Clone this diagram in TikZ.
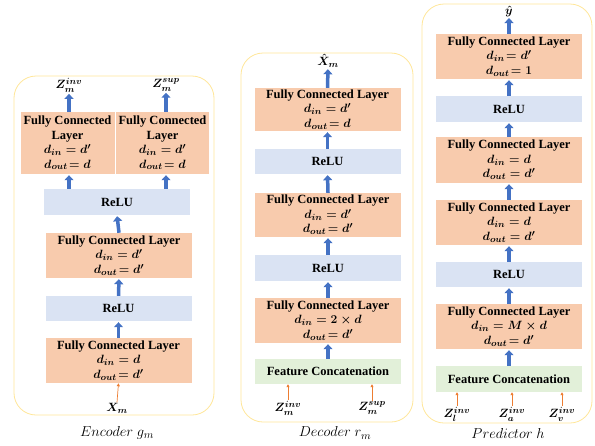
\documentclass[tikz,border=0pt]{standalone}
\usepackage{fontspec}
\setmainfont{Liberation Serif}
\usetikzlibrary{arrows, arrows.meta}
\definecolor{fcfill}{HTML}{F8CBAD}
\definecolor{relufill}{HTML}{DAE3F3}
\definecolor{catfill}{HTML}{E2F0D9}
\definecolor{panelline}{HTML}{FFE699}
\definecolor{flowblue}{HTML}{4472C4}
\definecolor{inorange}{HTML}{ED7D31}
\tikzset{
  layer/.style={inner sep=0pt, align=center, minimum width=146pt, font=\fontsize{12.5}{14.5}\selectfont\bfseries\boldmath},
  fcbox/.style={layer, fill=fcfill, minimum height=45pt},
  relubox/.style={layer, fill=relufill, minimum height=26pt},
  catbox/.style={layer, fill=catfill, minimum height=26pt},
  panel/.style={draw=panelline, line width=0.8pt, rounded corners=22pt},
  vlabel/.style={inner sep=0.5pt, font=\fontsize{13}{15}\selectfont\boldmath},
  caption/.style={font=\fontsize{15}{17}\selectfont},
  flow/.style={draw=flowblue, line width=3.5pt, shorten >=1pt, -{Triangle[length=5pt, width=9pt]}},
  feed/.style={draw=inorange, line width=0.7pt, -{Triangle[length=3pt, width=3pt]}}
}
\begin{document}
\begin{tikzpicture}[x=1pt, y=-1pt]
\useasboundingbox (0,0) rectangle (595,445);

% Encoder
\draw[panel] (14,76) rectangle (214,415);
\node[fcbox, minimum width=94pt, minimum height=62pt] (encfca) at (67.5,143){Fully Connected\\Layer\\$d_{in} = d'$\\$d_{out}\!= d$};
\node[fcbox, minimum width=93pt, minimum height=62pt] (encfcb) at (162.5,143){Fully Connected\\Layer\\$d_{in} = d'$\\$d_{out}\!= d$};
\node[relubox] (encrelua) at (117,202){ReLU};
\node[fcbox] (encfcc) at (119,255.5){Fully Connected Layer\\$d_{in} = d'$\\$d_{out}\!= d'$};
\node[relubox, minimum height=25pt] (increlub) at (118.5,308.5){ReLU};
\node[fcbox] (encfcd) at (118.5,360.5){Fully Connected Layer\\$d_{in} = d$\\$d_{out}\!= d'$};
\node[vlabel] (encx) at (117,408){$X_m$};
\node[vlabel] (enczinv) at (69,85){$Z_m^{inv}$};\node[vlabel] (enczsup) at (166,85){$Z_m^{sup}$};
\node[caption] (enccap) at (117,433){$Encoder\ g_m$};
\draw[feed] (encx.north) -- (encfcd.south);
\draw[flow] (encfcd.north) -- (increlub.south);\draw[flow] (increlub.north) -- (encfcc.south);
\draw[flow] (encfcc.north) -- (encrelua.south);
\draw[flow] (encrelua.north -| enczinv) -- (encfca.south -| enczinv);\draw[flow] (encrelua.north -| enczsup) -- (encfcb.south -| enczsup);
\draw[flow] (encfca.north -| enczinv) -- (enczinv.south);\draw[flow] (encfcb.north -| enczsup) -- (enczsup.south);

% Decoder
\draw[panel] (241,53) rectangle (413,422);
\node[fcbox, minimum height=43pt] (decfca) at (327.5,109.5){Fully Connected Layer\\$d_{in} = d'$\\$d_{out}\!= d$};
\node[relubox, minimum height=25pt] (decrelua) at (327.5,161.5){ReLU};
\node[fcbox, minimum height=44pt] (decfcb) at (328,215){Fully Connected Layer\\$d_{in} = d'$\\$d_{out}\!= d'$};
\node[relubox] (decrelub) at (328,268){ReLU};
\node[fcbox] (decfcc) at (328,320.5){Fully Connected Layer\\$d_{in} = 2\times d$\\$d_{out}\!= d'$};
\node[catbox, minimum height=25pt] (deccat) at (328,371.5){Feature Concatenation};
\node[vlabel] (decxhat) at (328,61){$\hat{X}_m$};
\node[vlabel] (deczinv) at (288,408){$Z_m^{inv}$};\node[vlabel] (deczsup) at (372,408){$Z_m^{sup}$};
\node[caption] (deccap) at (335,433){$Decoder\ r_m$};
\draw[feed] (deczinv.north) -- (deczinv.north |- deccat.south);\draw[feed] (deczsup.north) -- (deczsup.north |- deccat.south);
\draw[flow] (deccat.north) -- (decfcc.south);\draw[flow] (decfcc.north) -- (decrelub.south);
\draw[flow] (decrelub.north) -- (decfcb.south);\draw[flow] (decfcb.north) -- (decrelua.south);
\draw[flow] (decrelua.north) -- (decfca.south);\draw[flow] (decfca.north) -- (decxhat.south);

% Predictor
\draw[panel] (422,4) rectangle (592,423);
\node[fcbox] (prefca) at (509,56.5){Fully Connected Layer\\$d_{in}\!= d'$\\$d_{out}\!= 1$};
\node[relubox] (prerelua) at (509,109){ReLU};
\node[fcbox, minimum height=46pt] (prefcb) at (509,160){Fully Connected Layer\\$d_{in} = d$\\$d_{out} = d'$};
\node[fcbox] (prefcc) at (509,222.5){Fully Connected Layer\\$d_{in} = d$\\$d_{out} = d'$};
\node[relubox, minimum height=25pt] (prerelub) at (509,274.5){ReLU};
\node[fcbox] (prefcd) at (509,326.5){Fully Connected Layer\\$d_{in} = M\times d$\\$d_{out}\!= d'$};
\node[catbox] (precat) at (509,379){Feature Concatenation};
\node[vlabel] (preyhat) at (509,11){$\hat{y}$};
\node[vlabel] (prezl) at (457,414){$Z_l^{inv}$};\node[vlabel] (preza) at (512,414){$Z_a^{inv}$};\node[vlabel] (prezv) at (562,414){$Z_v^{inv}$};
\node[caption] (precap) at (508,433){$Predictor\ h$};
\draw[feed] (prezl.north) -- (prezl.north |- precat.south);\draw[feed] (preza.north) -- (preza.north |- precat.south);
\draw[feed] (prezv.north) -- (prezv.north |- precat.south);
\draw[flow] (precat.north) -- (prefcd.south);\draw[flow] (prefcd.north) -- (prerelub.south);
\draw[flow] (prerelub.north) -- (prefcc.south);\draw[flow] (prefcc.north) -- (prefcb.south);
\draw[flow] (prefcb.north) -- (prerelua.south);\draw[flow] (prerelua.north) -- (prefca.south);
\draw[flow] (prefca.north) -- (preyhat.south);
\end{tikzpicture}
\end{document}
